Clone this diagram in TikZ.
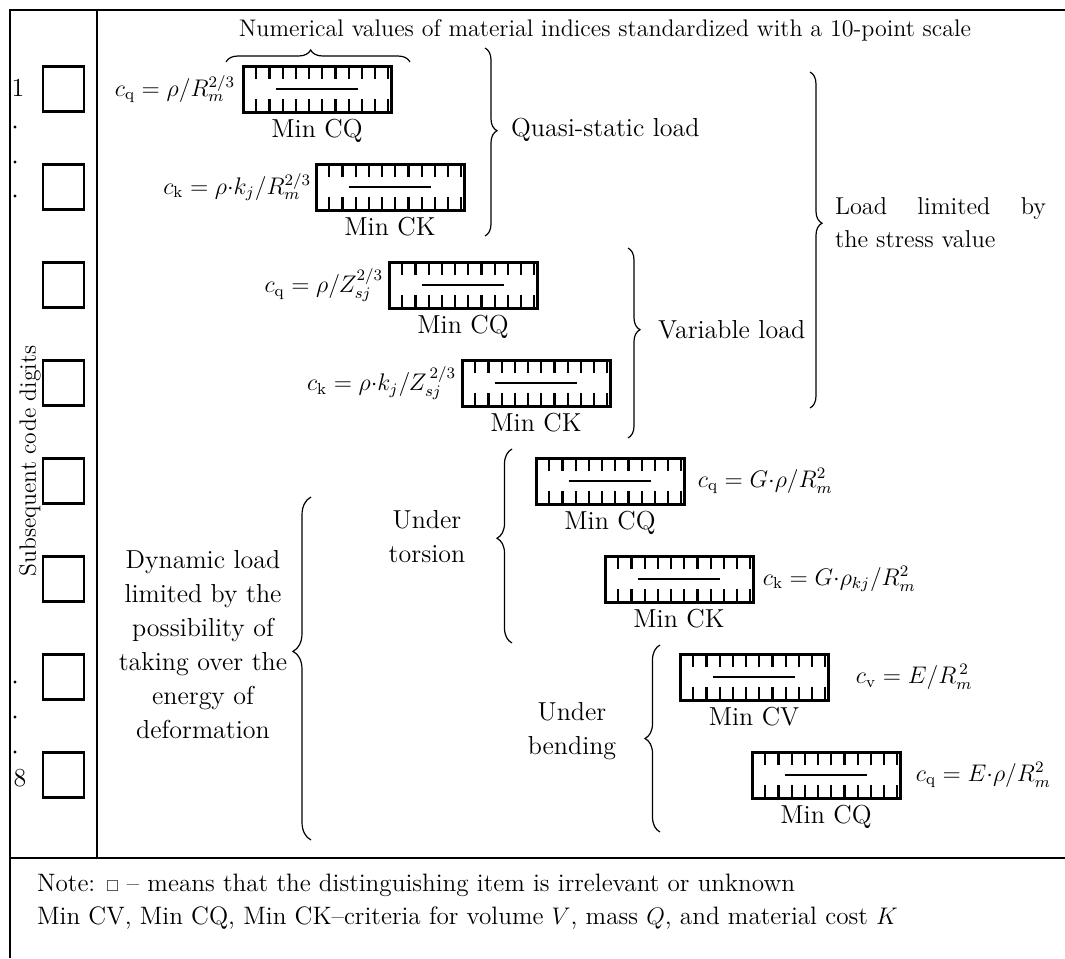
\documentclass[tikz,border=0pt]{standalone}
\usepackage{amssymb}
\usetikzlibrary{positioning,calc,decorations.pathreplacing}
\tikzset{
  x           = 0.5pt,
  y           = -0.5pt,
  font        = \fontsize{13}{16}\selectfont,
  frame/.style={
    line width = 1.3pt},
  digit/.style={
    draw,
    line width     = 1.4pt,
    minimum width  = 20.5pt,
    minimum height = 22.5pt,
    inner sep      = 0pt},
  scalebox/.style={
    draw,
    line width     = 1.5pt,
    minimum width  = 74pt,
    minimum height = 23pt,
    inner sep      = 0pt,
    path picture={
      \foreach \i in {1,...,11}{
        \draw[line width=1.1pt]
          ($(path picture bounding box.north west)!\i/11.2!(path picture bounding box.north east)$)
          -- ++(0,-6.5pt);
        \draw[line width=1.1pt]
          ($(path picture bounding box.south west)!\i/11.2!(path picture bounding box.south east)$)
          -- ++(0,6.5pt);
      }
      \draw[line width=1.1pt]
        ($(path picture bounding box.west)!0.22!(path picture bounding box.east)$)
        -- ($(path picture bounding box.west)!0.78!(path picture bounding box.east)$);
    }},
  crit/.style={
    inner sep = 1pt},
  formula/.style={
    inner sep = 0pt,
    font      = \fontsize{11.5}{14}\selectfont},
  brc/.style={
    decorate,
    decoration = {brace, amplitude=6pt},
    line width = 0.6pt},
  group/.style={
    align    = center,
    font     = \fontsize{13}{17}\selectfont}
}
\newcommand\dt{{\cdot}}

\begin{document}
\begin{tikzpicture}
\useasboundingbox (0,0) rectangle (1065,958);

% table frame
\draw[frame] (10,958) -- (10,10) -- (1065,10);
\draw[frame] (10,858) -- (1065,858);
\draw[frame] (97,10) -- (97,858);

% code digit column
\foreach \i in {1,...,8}
  \node[digit] (d\i) at (63.5,{89+98*(\i-1)}) {};
\node (n1) at (18,88) {1};
\node (n8) at (20,778) {8};
\foreach \yy in {127,162,196,682,717,752}
  \fill (15,\yy) circle (0.8pt);
\node[rotate=90, font=\fontsize{11.8}{14}\selectfont] (digits) at (30,461) {Subsequent code digits};

% header
\node[font=\fontsize{12}{14}\selectfont] (head) at (605,30)
  {Numerical values of material indices standardized with a 10-point scale};

% scale boxes
\node[scalebox] (cq1) at (317,89)  {};
\node[scalebox] (ck1) at (390,187) {};
\node[scalebox] (cq2) at (463,285) {};
\node[scalebox] (ck2) at (536,383) {};
\node[scalebox] (cq3) at (610,481) {};
\node[scalebox] (ck3) at (679,579) {};
\node[scalebox] (cv4) at (754,677) {};
\node[scalebox] (cq4) at (826,775) {};

\node[crit, below=1.5pt of cq1] (cq1lab) {Min CQ};
\node[crit, below=1.5pt of ck1] (ck1lab) {Min CK};
\node[crit, below=1.5pt of cq2] (cq2lab) {Min CQ};
\node[crit, below=1.5pt of ck2] (ck2lab) {Min CK};
\node[crit, below=1.5pt of cq3] (cq3lab) {Min CQ};
\node[crit, below=1.5pt of ck3] (ck3lab) {Min CK};
\node[crit, below=1.5pt of cv4] (cv4lab) {Min CV};
\node[crit, below=1.5pt of cq4] (cq4lab) {Min CQ};

% material indices
\node[formula, left=3pt of cq1]   (fq1) {$c_{\mathrm{q}} = \rho/R_m^{2/3}$};
\node[formula, left=1.5pt of ck1] (fk1) {$c_{\mathrm{k}} = \rho\dt k_j/R_m^{2/3}$};
\node[formula, left=2pt of cq2]   (fq2) {$c_{\mathrm{q}} = \rho/Z_{sj}^{2/3}$};
\node[formula, left=2pt of ck2]   (fk2) {$c_{\mathrm{k}} = \rho\dt k_j/Z_{sj}^{\,2/3}$};
\node[formula, right=6pt of cq3]  (fq3) {$c_{\mathrm{q}} = G\dt\rho/R_m^2$};
\node[formula, right=4pt of ck3]  (fk3) {$c_{\mathrm{k}} = G\dt\rho_{kj}/R_m^2$};
\node[formula, right=13pt of cv4] (fv4) {$c_{\mathrm{v}} = E/R_m^{\,2}$};
\node[formula, right=7pt of cq4]  (fq4) {$c_{\mathrm{q}} = E\dt\rho/R_m^2$};

% braces
\coordinate (hdL) at (226,62);  \coordinate (hdR) at (410,62);
\coordinate (qsT) at (485,48);  \coordinate (qsB) at (485,236);
\coordinate (vlT) at (628,248); \coordinate (vlB) at (628,438);
\coordinate (stT) at (810,72);  \coordinate (stB) at (810,408);
\coordinate (toT) at (512,449); \coordinate (toB) at (512,643);
\coordinate (beT) at (660,645); \coordinate (beB) at (660,832);
\coordinate (dyT) at (311,497); \coordinate (dyB) at (311,840);

\draw[brc, decoration={aspect=0.46}] (hdL) -- (hdR);
\draw[brc, decoration={aspect=0.44}] (qsT) -- (qsB);
\draw[brc, decoration={aspect=0.43}] (vlT) -- (vlB);
\draw[brc, decoration={aspect=0.45}] (stT) -- (stB);
\draw[brc, decoration={aspect=0.54, amplitude=7.5pt}] (toB) -- (toT);
\draw[brc, decoration={aspect=0.50, amplitude=7.5pt}] (beB) -- (beT);
\draw[brc, decoration={aspect=0.55, amplitude=9pt}]   (dyB) -- (dyT);

% load groups
\node[anchor=west] (quasi) at (504,130) {Quasi-static load};
\node[anchor=west] (var)   at (651,330) {Variable load};
\node[group, anchor=west, align=left, font=\fontsize{12.2}{16.5}\selectfont] (stress) at (828,223)
  {\hbox to 105.5pt{Load\hfill limited\hfill by}\\the stress value};
\node[group] (tors) at (427,537) {Under\\torsion};
\node[group] (bend) at (572,731) {Under\\bending};
\node[group] (dyn)  at (203,645)
  {Dynamic load\\limited by the\\possibility of\\taking over the\\energy of\\deformation};

% note
\node[anchor=north west, align=left, font=\fontsize{12.6}{16.5}\selectfont] (note) at (30,867)
  {Note: {\footnotesize$\square$} -- means that the distinguishing item is irrelevant or unknown\\
   Min CV, Min CQ, Min CK--criteria for volume $V$, mass $Q$, and material cost $K$};
\end{tikzpicture}
\end{document}
